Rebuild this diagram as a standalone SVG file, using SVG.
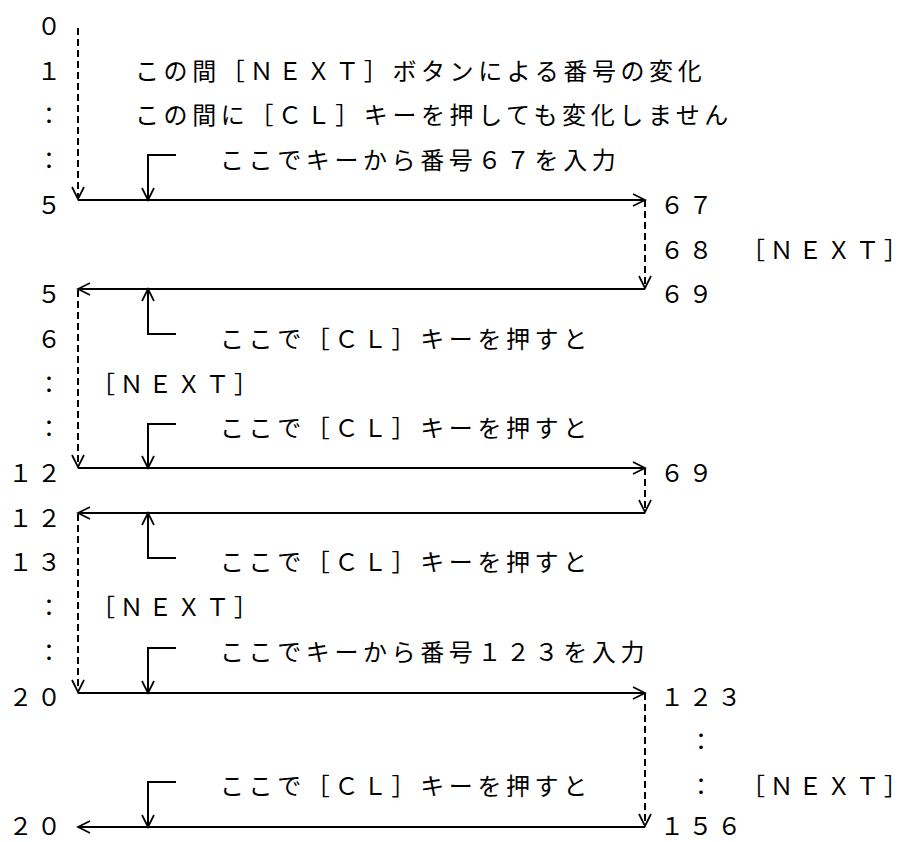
<svg xmlns="http://www.w3.org/2000/svg" width="907" height="842" viewBox="0 0 907 842">
<defs>
<style>
text{font-family:"Noto Sans CJK JP","Noto Sans",sans-serif;font-size:24px;letter-spacing:4.6px;fill:#000}
.s{fill:none;stroke:#000;stroke-width:2}
.d{fill:none;stroke:#000;stroke-width:2;stroke-dasharray:7 4}
.ah{fill:none;stroke:#000;stroke-width:1.7}
</style>
<marker id="arr" markerUnits="userSpaceOnUse" markerWidth="16" markerHeight="16" viewBox="0 0 16 16" refX="13" refY="8" orient="auto">
<path class="ah" d="M1,2 L13,8 L1,14"/>
</marker>
</defs>
<rect width="907" height="842" fill="#fff"/>
<g id="left-labels">
<text x="37" y="35">０</text>
<text x="37" y="79.7">１</text>
<text x="37" y="124.4">：</text>
<text x="37" y="169.1">：</text>
<text x="37" y="213.8">５</text>
<text x="37" y="303.2">５</text>
<text x="37" y="347.9">６</text>
<text x="37" y="392.6">：</text>
<text x="37" y="437.3">：</text>
<text x="8.4" y="482">１２</text>
<text x="8.4" y="526.7">１２</text>
<text x="8.4" y="571.4">１３</text>
<text x="37" y="616.1">：</text>
<text x="37" y="660.8">：</text>
<text x="8.4" y="705.5">２０</text>
<text x="8.4" y="835">２０</text>
</g>
<g id="notes">
<text x="135" y="79.7">この間［ＮＥＸＴ］ボタンによる番号の変化</text>
<text x="135" y="124.4">この間に［ＣＬ］キーを押しても変化しません</text>
<text x="220" y="169.1">ここでキーから番号６７を入力</text>
<text x="220" y="347.9">ここで［ＣＬ］キーを押すと</text>
<text x="91" y="392.6">［ＮＥＸＴ］</text>
<text x="220" y="437.3">ここで［ＣＬ］キーを押すと</text>
<text x="220" y="571.4">ここで［ＣＬ］キーを押すと</text>
<text x="91" y="616.1">［ＮＥＸＴ］</text>
<text x="220" y="660.8">ここでキーから番号１２３を入力</text>
<text x="220" y="794.9">ここで［ＣＬ］キーを押すと</text>
</g>
<g id="right-labels">
<text x="660" y="213.8">６７</text>
<text x="660" y="258.5">６８</text>
<text x="741" y="258.5">［ＮＥＸ<tspan letter-spacing="4.6">Ｔ</tspan><tspan letter-spacing="0">］</tspan></text>
<text x="660" y="303.2">６９</text>
<text x="660" y="482">６９</text>
<text x="660" y="705.5">１２３</text>
<text x="689" y="750.2">：</text>
<text x="689" y="794.9">：</text>
<text x="741" y="794.9">［ＮＥＸ<tspan letter-spacing="4.6">Ｔ</tspan><tspan letter-spacing="0">］</tspan></text>
<text x="660" y="835">１５６</text>
</g>
<g id="connectors">
<path class="d" d="M78,28 V199" marker-end="url(#arr)"/>
<path class="s" d="M78,200 H645" marker-end="url(#arr)"/>
<path class="d" d="M645,200 V288" marker-end="url(#arr)"/>
<path class="s" d="M645,289 H78" marker-end="url(#arr)"/>
<path class="d" d="M78,290 V467" marker-end="url(#arr)"/>
<path class="s" d="M78,468 H645" marker-end="url(#arr)"/>
<path class="d" d="M645,468 V512" marker-end="url(#arr)"/>
<path class="s" d="M645,513 H78" marker-end="url(#arr)"/>
<path class="d" d="M78,514 V692" marker-end="url(#arr)"/>
<path class="s" d="M78,693 H645" marker-end="url(#arr)"/>
<path class="d" d="M645,693 V826" marker-end="url(#arr)"/>
<path class="s" d="M645,827 H78" marker-end="url(#arr)"/>
<path class="s" d="M176,155 H148 V200" marker-end="url(#arr)"/>
<path class="s" d="M176,334 H148 V289" marker-end="url(#arr)"/>
<path class="s" d="M176,424 H148 V468" marker-end="url(#arr)"/>
<path class="s" d="M176,558 H148 V513" marker-end="url(#arr)"/>
<path class="s" d="M176,648 H148 V693" marker-end="url(#arr)"/>
<path class="s" d="M176,782 H148 V827" marker-end="url(#arr)"/>
</g>
</svg>
